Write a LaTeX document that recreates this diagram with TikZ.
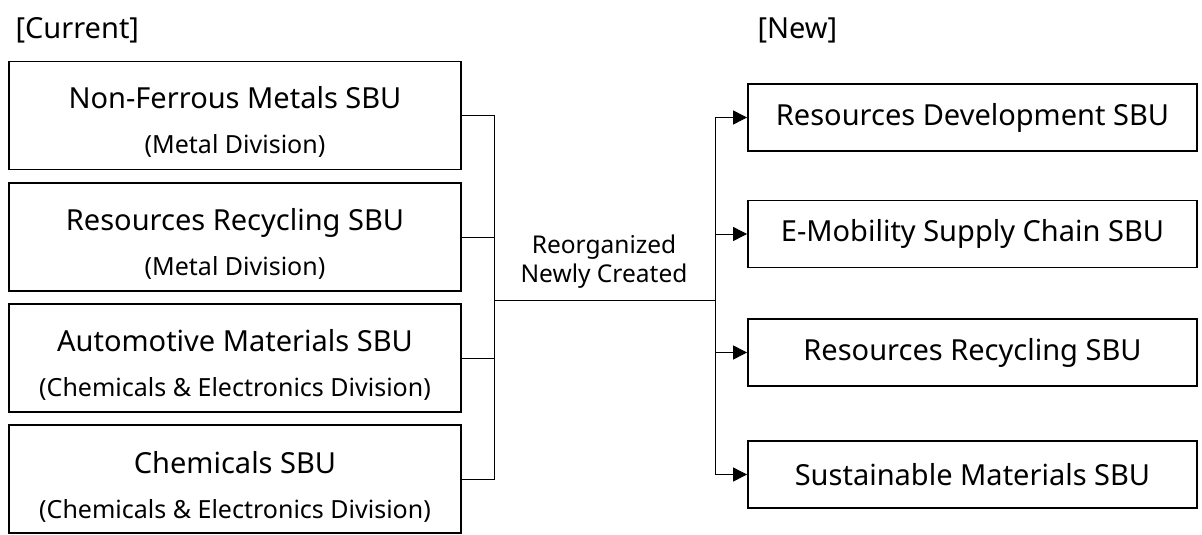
\documentclass[tikz,border=0pt]{standalone}
\usepackage{fontspec}
\setmainfont{Noto Sans}
\usetikzlibrary{arrows.meta}
\begin{document}
\begin{tikzpicture}[x=1pt,y=-1pt,
        oldunit/.style={draw=black,line width=1.8pt,minimum width=452pt,minimum height=108pt,inner sep=0pt},
        newunit/.style={draw=black,line width=1.8pt,minimum width=449pt,minimum height=67pt,inner sep=0pt,font=\fontsize{29}{32}\selectfont},
        title/.style={anchor=base,inner sep=0pt,font=\fontsize{29}{32}\selectfont},
        sub/.style={anchor=base,inner sep=0pt,font=\fontsize{25}{28}\selectfont},
        link/.style={line width=0.9pt}]
        \useasboundingbox (0,0) rectangle (1202,535);
        % headings
        \node[anchor=west,font=\fontsize{29}{32}\selectfont] (current) at (12,30) {[Current]};
        \node[anchor=west,font=\fontsize{29}{32}\selectfont] (new) at (754,30) {[New]};
        % current units
        \node[oldunit] (nfm) at (235,115.5) {};
        \node[oldunit] (rrc) at (235,237) {};
        \node[oldunit] (aum) at (235,358) {};
        \node[oldunit] (chm) at (235,479) {};
        \node[title] (nfm-t) at (235,108) {Non-Ferrous Metals SBU};
        \node[sub] (nfm-s) at (235,153) {(Metal Division)};
        \node[title] (rrc-t) at (235,230) {Resources Recycling SBU};
        \node[sub] (rrc-s) at (235,275) {(Metal Division)};
        \node[title] (aum-t) at (235,351) {Automotive Materials SBU};
        \node[sub] (aum-s) at (235,396) {(Chemicals \& Electronics Division)};
        \node[title] (chm-t) at (235,473) {Chemicals SBU};
        \node[sub] (chm-s) at (235,518) {(Chemicals \& Electronics Division)};
        % new units
        \node[newunit] (rdv) at (972.5,117.5) {Resources Development SBU};
        \node[newunit] (emc) at (972.5,234) {E-Mobility Supply Chain SBU};
        \node[newunit] (rrn) at (972.5,352.5) {Resources Recycling SBU};
        \node[newunit] (sum) at (972.5,474.5) {Sustainable Materials SBU};
        % middle
        \coordinate (jl) at (494,300);
        \coordinate (jr) at (715,300);
        \node[sub,font=\fontsize{24.5}{28}\selectfont] (reorg) at (604,253) {Reorganized};
        \node[sub,font=\fontsize{24.5}{28}\selectfont] (newly) at (604,282) {Newly Created};
        \foreach \u in {nfm,rrc,aum,chm}
            \draw[link] (\u.east) -| (jl);
        \draw[link] (jl) -- (jr);
        \foreach \u in {rdv,emc,rrn,sum}
            \draw[link,-{Triangle[length=14pt,width=14pt]}] (jr) |- (\u.west);
\end{tikzpicture}
\end{document}
